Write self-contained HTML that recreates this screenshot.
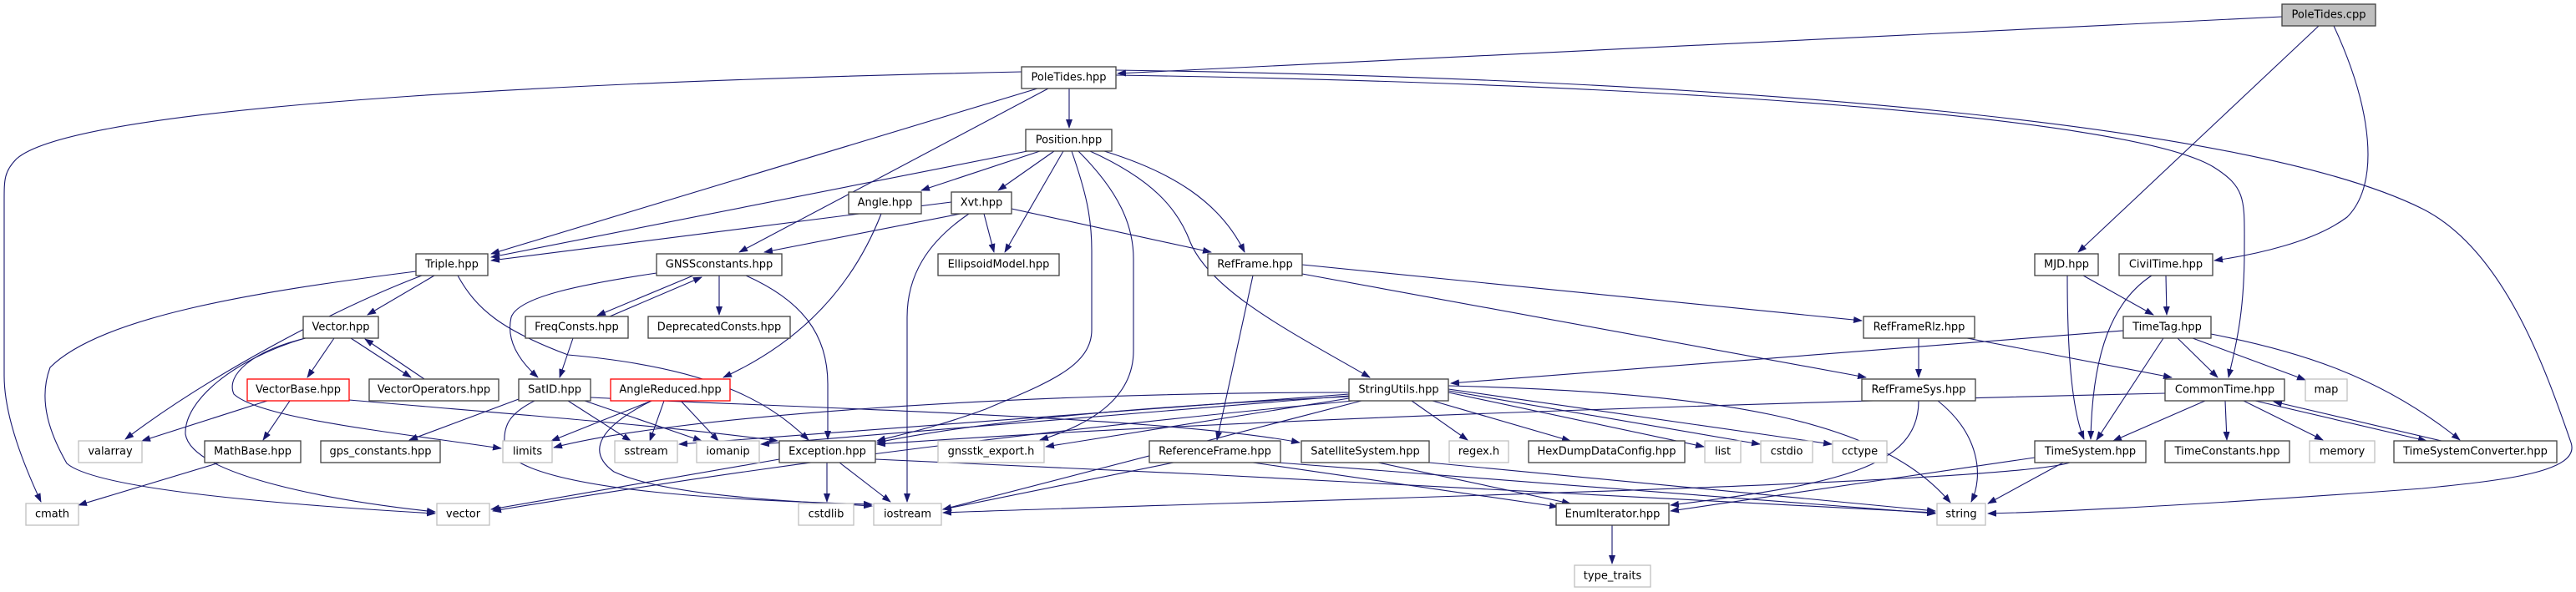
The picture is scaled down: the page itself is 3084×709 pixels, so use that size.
<!DOCTYPE html>
<html><head><meta charset="utf-8"><style>
html,body{margin:0;padding:0;background:#fff;}
svg{display:block;}
text{font-family:"DejaVu Sans","Liberation Sans",sans-serif;font-size:13px;fill:#000;}
.e{fill:none;stroke:#191970;stroke-width:1.1;marker-end:url(#a);}
.n{fill:#fff;stroke:#404040;stroke-width:1.3;}
.g{fill:#fff;stroke:#bfbfbf;stroke-width:1.3;}
.r{fill:#fff;stroke:#ff0000;stroke-width:1.3;}
</style></head><body>
<svg width="3084" height="709" viewBox="0 0 3084 709" xmlns="http://www.w3.org/2000/svg">
<defs><marker id="a" markerWidth="11" markerHeight="8" refX="10" refY="4" orient="auto" markerUnits="userSpaceOnUse"><path d="M0,0 L11,4 L0,8 z" fill="#191970"/></marker></defs>
<g>
<path class="e" d="M2732,20 L1338,88"/>
<path class="e" d="M2776,31 L2488,302"/>
<path class="e" d="M2794,31 C2840,130 2850,220 2810,260 C2770,290 2700,305 2651,312"/>
<path class="e" d="M1223,86 C800,95 100,120 20,190 C5,205 5,215 5,240 L5,450 C5,500 30,560 49,601"/>
<path class="e" d="M1280,106 L1280,153"/>
<path class="e" d="M1242,106 L588,304"/>
<path class="e" d="M1255,106 L885,302"/>
<path class="e" d="M1336,84 C2100,95 2700,150 2900,250 C3000,300 3050,450 3078,530 C3090,565 3000,575 2900,585 C2700,600 2500,612 2380,615"/>
<path class="e" d="M1336,90 C2000,100 2550,140 2650,200 C2690,225 2687,240 2687,300 C2687,380 2675,420 2668,452"/>
<path class="e" d="M1235,180 L588,308"/>
<path class="e" d="M1245,181 L1103,228"/>
<path class="e" d="M1262,181 L1195,228"/>
<path class="e" d="M1273,181 L1203,302"/>
<path class="e" d="M1283,181 C1300,230 1307,260 1307,300 L1307,395 C1307,440 1250,460 1180,490 C1120,512 1080,520 1050,528"/>
<path class="e" d="M1291,181 C1340,230 1357,270 1357,310 L1357,420 C1357,480 1300,510 1245,527"/>
<path class="e" d="M1305,181 C1380,215 1410,250 1425,290 C1450,350 1550,400 1640,452"/>
<path class="e" d="M1322,181 C1400,205 1460,240 1490,302"/>
<path class="e" d="M1139,242 L588,312"/>
<path class="e" d="M1150,256 L915,302"/>
<path class="e" d="M1178,256 L1190,302"/>
<path class="e" d="M1211,250 L1450,302"/>
<path class="e" d="M1160,256 C1110,290 1086,330 1086,380 L1086,601"/>
<path class="e" d="M1055,256 C1030,320 980,400 866,452"/>
<path class="e" d="M786,327 C700,340 620,355 612,380 C605,410 625,435 644,452"/>
<path class="e" d="M830,330 L715,378"/>
<path class="e" d="M730,379 L840,332"/>
<path class="e" d="M861,330 L861,377"/>
<path class="e" d="M893,330 C960,360 991,400 991,460 L991,526"/>
<path class="e" d="M686,405 L670,452"/>
<path class="e" d="M505,330 C400,370 250,450 150,526"/>
<path class="e" d="M498,325 C300,350 120,380 60,440 C45,480 60,520 80,555 C120,590 400,608 521,615"/>
<path class="e" d="M520,330 L440,377"/>
<path class="e" d="M548,330 C570,370 600,395 680,425 C850,440 920,480 968,527"/>
<path class="e" d="M400,405 L368,452"/>
<path class="e" d="M420,405 L492,452"/>
<path class="e" d="M508,454 L437,406"/>
<path class="e" d="M365,405 C280,430 220,480 222,520 C230,570 400,600 521,613"/>
<path class="e" d="M370,404 C300,420 270,450 280,472 C310,500 450,515 600,537"/>
<path class="e" d="M320,480 L170,528"/>
<path class="e" d="M347,480 L315,527"/>
<path class="e" d="M418,479 C600,495 800,510 931,528"/>
<path class="e" d="M263,554 L94,605"/>
<path class="e" d="M621,478 L490,527"/>
<path class="e" d="M680,480 L755,528"/>
<path class="e" d="M700,480 L840,528"/>
<path class="e" d="M707,476 C1000,490 1400,500 1556,530"/>
<path class="e" d="M640,480 C610,495 600,510 605,540 C640,590 900,600 1044,604"/>
<path class="e" d="M780,480 L660,528"/>
<path class="e" d="M795,480 L778,528"/>
<path class="e" d="M815,480 L860,528"/>
<path class="e" d="M780,480 C720,510 700,540 735,565 C800,595 950,600 1044,606"/>
<path class="e" d="M990,554 L990,601"/>
<path class="e" d="M1005,554 L1066,601"/>
<path class="e" d="M933,550 L588,610"/>
<path class="e" d="M1048,550 C1500,570 2100,600 2317,614"/>
<path class="e" d="M1615,470 C1200,470 800,500 663,536"/>
<path class="e" d="M1615,472 L813,532"/>
<path class="e" d="M1615,474 L911,532"/>
<path class="e" d="M1615,475 C1300,490 1150,510 1050,530"/>
<path class="e" d="M1615,477 L1252,535"/>
<path class="e" d="M1620,480 C1200,520 900,560 590,612"/>
<path class="e" d="M1630,480 C1400,540 1250,580 1129,610"/>
<path class="e" d="M1690,480 L1757,527"/>
<path class="e" d="M1715,480 L1880,528"/>
<path class="e" d="M1734,470 L2040,535"/>
<path class="e" d="M1734,468 L2107,532"/>
<path class="e" d="M1734,466 L2193,532"/>
<path class="e" d="M1734,462 C2050,470 2250,500 2335,602"/>
<path class="e" d="M1500,330 L1457,527"/>
<path class="e" d="M1559,317 L2229,384"/>
<path class="e" d="M1559,328 L2234,452"/>
<path class="e" d="M2297,405 L2297,452"/>
<path class="e" d="M2355,405 L2600,452"/>
<path class="e" d="M2297,480 C2297,560 2200,580 2000,605"/>
<path class="e" d="M2320,480 C2370,520 2375,570 2360,601"/>
<path class="e" d="M1405,554 L1129,610"/>
<path class="e" d="M1500,554 L1865,607"/>
<path class="e" d="M1530,554 L2317,615"/>
<path class="e" d="M1650,554 L1880,603"/>
<path class="e" d="M1711,554 L2317,612"/>
<path class="e" d="M1930,629 L1930,675"/>
<path class="e" d="M2494,330 L2578,377"/>
<path class="e" d="M2475,330 C2475,420 2480,490 2495,526"/>
<path class="e" d="M2593,330 L2594,377"/>
<path class="e" d="M2576,330 C2530,360 2505,420 2503,526"/>
<path class="e" d="M2542,396 L1737,459"/>
<path class="e" d="M2607,405 L2655,452"/>
<path class="e" d="M2590,405 L2510,527"/>
<path class="e" d="M2625,405 L2760,455"/>
<path class="e" d="M2647,400 C2750,420 2850,450 2945,527"/>
<path class="e" d="M2640,480 L2530,528"/>
<path class="e" d="M2664,480 L2666,527"/>
<path class="e" d="M2686,480 L2781,527"/>
<path class="e" d="M2700,480 L2905,528"/>
<path class="e" d="M2923,528 L2722,481"/>
<path class="e" d="M2592,471 C2200,480 1500,500 1050,532"/>
<path class="e" d="M2436,548 L2000,612"/>
<path class="e" d="M2470,554 L2380,603"/>
<path class="e" d="M2478,554 C2400,580 1500,600 1129,614"/>
</g>
<g>
<rect x="2732" y="5" width="112" height="26" fill="#bfbfbf" stroke="#404040" stroke-width="1.3"/><text x="2788" y="18" text-anchor="middle" dominant-baseline="central">PoleTides.cpp</text>
<rect class="n" x="1223" y="80" width="113" height="26"/><text x="1279.5" y="93" text-anchor="middle" dominant-baseline="central">PoleTides.hpp</text>
<rect class="n" x="1228" y="155" width="103" height="26"/><text x="1279.5" y="168" text-anchor="middle" dominant-baseline="central">Position.hpp</text>
<rect class="n" x="1016" y="230" width="87" height="26"/><text x="1059.5" y="243" text-anchor="middle" dominant-baseline="central">Angle.hpp</text>
<rect class="n" x="1139" y="230" width="72" height="26"/><text x="1175" y="243" text-anchor="middle" dominant-baseline="central">Xvt.hpp</text>
<rect class="n" x="498" y="304" width="86" height="26"/><text x="541" y="317" text-anchor="middle" dominant-baseline="central">Triple.hpp</text>
<rect class="n" x="786" y="304" width="150" height="26"/><text x="861" y="317" text-anchor="middle" dominant-baseline="central">GNSSconstants.hpp</text>
<rect class="n" x="1123" y="304" width="145" height="26"/><text x="1195.5" y="317" text-anchor="middle" dominant-baseline="central">EllipsoidModel.hpp</text>
<rect class="n" x="1446" y="304" width="113" height="26"/><text x="1502.5" y="317" text-anchor="middle" dominant-baseline="central">RefFrame.hpp</text>
<rect class="n" x="2436" y="304" width="76" height="26"/><text x="2474" y="317" text-anchor="middle" dominant-baseline="central">MJD.hpp</text>
<rect class="n" x="2537" y="304" width="112" height="26"/><text x="2593" y="317" text-anchor="middle" dominant-baseline="central">CivilTime.hpp</text>
<rect class="n" x="363" y="379" width="90" height="26"/><text x="408" y="392" text-anchor="middle" dominant-baseline="central">Vector.hpp</text>
<rect class="n" x="629" y="379" width="123" height="26"/><text x="690.5" y="392" text-anchor="middle" dominant-baseline="central">FreqConsts.hpp</text>
<rect class="n" x="776" y="379" width="170" height="26"/><text x="861" y="392" text-anchor="middle" dominant-baseline="central">DeprecatedConsts.hpp</text>
<rect class="n" x="2231" y="379" width="133" height="26"/><text x="2297.5" y="392" text-anchor="middle" dominant-baseline="central">RefFrameRlz.hpp</text>
<rect class="n" x="2542" y="379" width="105" height="26"/><text x="2594.5" y="392" text-anchor="middle" dominant-baseline="central">TimeTag.hpp</text>
<rect class="r" x="296" y="454" width="122" height="26"/><text x="357" y="467" text-anchor="middle" dominant-baseline="central">VectorBase.hpp</text>
<rect class="n" x="442" y="454" width="155" height="26"/><text x="519.5" y="467" text-anchor="middle" dominant-baseline="central">VectorOperators.hpp</text>
<rect class="n" x="621" y="454" width="86" height="26"/><text x="664" y="467" text-anchor="middle" dominant-baseline="central">SatID.hpp</text>
<rect class="r" x="731" y="454" width="143" height="26"/><text x="802.5" y="467" text-anchor="middle" dominant-baseline="central">AngleReduced.hpp</text>
<rect class="n" x="1615" y="454" width="119" height="26"/><text x="1674.5" y="467" text-anchor="middle" dominant-baseline="central">StringUtils.hpp</text>
<rect class="n" x="2229" y="454" width="136" height="26"/><text x="2297" y="467" text-anchor="middle" dominant-baseline="central">RefFrameSys.hpp</text>
<rect class="n" x="2592" y="454" width="143" height="26"/><text x="2663.5" y="467" text-anchor="middle" dominant-baseline="central">CommonTime.hpp</text>
<rect class="g" x="2760" y="454" width="50" height="26"/><text x="2785" y="467" text-anchor="middle" dominant-baseline="central">map</text>
<rect class="g" x="94" y="528" width="76" height="26"/><text x="132" y="541" text-anchor="middle" dominant-baseline="central">valarray</text>
<rect class="n" x="245" y="528" width="115" height="26"/><text x="302.5" y="541" text-anchor="middle" dominant-baseline="central">MathBase.hpp</text>
<rect class="n" x="384" y="528" width="143" height="26"/><text x="455.5" y="541" text-anchor="middle" dominant-baseline="central">gps_constants.hpp</text>
<rect class="g" x="602" y="528" width="59" height="26"/><text x="631.5" y="541" text-anchor="middle" dominant-baseline="central">limits</text>
<rect class="g" x="736" y="528" width="75" height="26"/><text x="773.5" y="541" text-anchor="middle" dominant-baseline="central">sstream</text>
<rect class="g" x="834" y="528" width="75" height="26"/><text x="871.5" y="541" text-anchor="middle" dominant-baseline="central">iomanip</text>
<rect class="n" x="933" y="528" width="115" height="26"/><text x="990.5" y="541" text-anchor="middle" dominant-baseline="central">Exception.hpp</text>
<rect class="g" x="1123" y="528" width="127" height="26"/><text x="1186.5" y="541" text-anchor="middle" dominant-baseline="central">gnsstk_export.h</text>
<rect class="n" x="1376" y="528" width="157" height="26"/><text x="1454.5" y="541" text-anchor="middle" dominant-baseline="central">ReferenceFrame.hpp</text>
<rect class="n" x="1558" y="528" width="153" height="26"/><text x="1634.5" y="541" text-anchor="middle" dominant-baseline="central">SatelliteSystem.hpp</text>
<rect class="g" x="1735" y="528" width="71" height="26"/><text x="1770.5" y="541" text-anchor="middle" dominant-baseline="central">regex.h</text>
<rect class="n" x="1830" y="528" width="187" height="26"/><text x="1923.5" y="541" text-anchor="middle" dominant-baseline="central">HexDumpDataConfig.hpp</text>
<rect class="g" x="2041" y="528" width="43" height="26"/><text x="2062.5" y="541" text-anchor="middle" dominant-baseline="central">list</text>
<rect class="g" x="2108" y="528" width="62" height="26"/><text x="2139" y="541" text-anchor="middle" dominant-baseline="central">cstdio</text>
<rect class="g" x="2194" y="528" width="65" height="26"/><text x="2226.5" y="541" text-anchor="middle" dominant-baseline="central">cctype</text>
<rect class="n" x="2436" y="528" width="133" height="26"/><text x="2502.5" y="541" text-anchor="middle" dominant-baseline="central">TimeSystem.hpp</text>
<rect class="n" x="2592" y="528" width="149" height="26"/><text x="2666.5" y="541" text-anchor="middle" dominant-baseline="central">TimeConstants.hpp</text>
<rect class="g" x="2765" y="528" width="78" height="26"/><text x="2804" y="541" text-anchor="middle" dominant-baseline="central">memory</text>
<rect class="n" x="2866" y="528" width="195" height="26"/><text x="2963.5" y="541" text-anchor="middle" dominant-baseline="central">TimeSystemConverter.hpp</text>
<rect class="g" x="31" y="603" width="63" height="26"/><text x="62.5" y="616" text-anchor="middle" dominant-baseline="central">cmath</text>
<rect class="g" x="523" y="603" width="63" height="26"/><text x="554.5" y="616" text-anchor="middle" dominant-baseline="central">vector</text>
<rect class="g" x="956" y="603" width="66" height="26"/><text x="989" y="616" text-anchor="middle" dominant-baseline="central">cstdlib</text>
<rect class="g" x="1046" y="603" width="81" height="26"/><text x="1086.5" y="616" text-anchor="middle" dominant-baseline="central">iostream</text>
<rect class="n" x="1863" y="603" width="135" height="26"/><text x="1930.5" y="616" text-anchor="middle" dominant-baseline="central">EnumIterator.hpp</text>
<rect class="g" x="2319" y="603" width="58" height="26"/><text x="2348" y="616" text-anchor="middle" dominant-baseline="central">string</text>
<rect class="g" x="1885" y="677" width="91" height="26"/><text x="1930.5" y="690" text-anchor="middle" dominant-baseline="central">type_traits</text>
</g>
</svg>
</body></html>
